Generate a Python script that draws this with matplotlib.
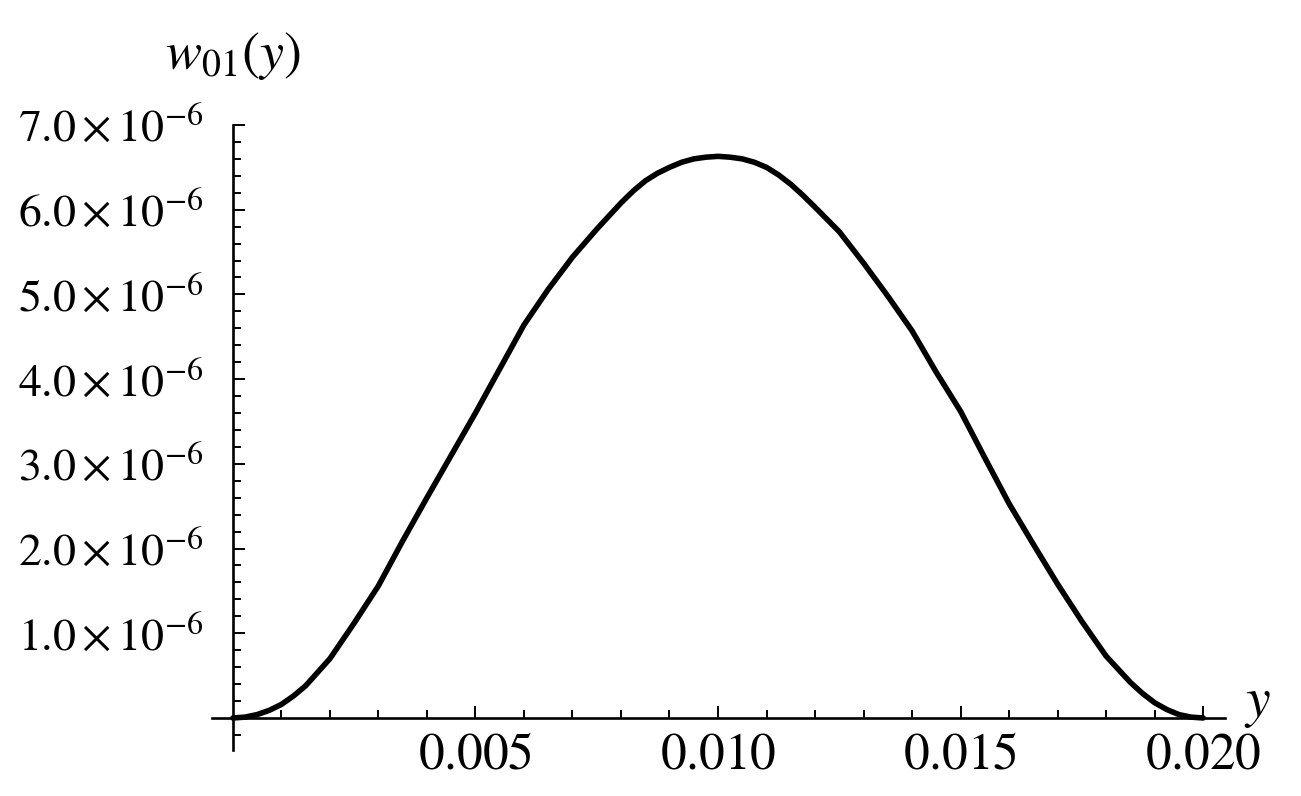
import matplotlib
matplotlib.use('Agg')
import matplotlib.pyplot as plt
from matplotlib.ticker import FixedLocator, FixedFormatter

plt.rcParams['mathtext.fontset'] = 'stix'
plt.rcParams['font.family'] = ['Liberation Serif', 'DejaVu Serif']

# ---- data ----
y_pos = [0.0, 0.00025, 0.0005, 0.00075, 0.001, 0.00125, 0.0015, 0.002, 0.0025, 0.003,
         0.0035, 0.004, 0.0045, 0.005, 0.0055, 0.006, 0.0065, 0.007, 0.0075, 0.008,
         0.00825, 0.0085, 0.00875, 0.009, 0.00925, 0.0095, 0.00975, 0.010,
         0.01025, 0.0105, 0.01075, 0.011, 0.01125, 0.0115, 0.01175, 0.012,
         0.0125, 0.013, 0.0135, 0.014, 0.0145, 0.015, 0.0155, 0.016, 0.0165,
         0.017, 0.0175, 0.018, 0.0185, 0.01875, 0.019, 0.01925, 0.0195, 0.01975, 0.020]
w01_e6 = [0.00, 0.01, 0.04, 0.09, 0.16, 0.26, 0.38, 0.70, 1.12, 1.56,
          2.09, 2.60, 3.10, 3.60, 4.12, 4.64, 5.06, 5.44, 5.77, 6.08,
          6.22, 6.34, 6.43, 6.50, 6.56, 6.60, 6.62, 6.63,
          6.62, 6.60, 6.56, 6.50, 6.41, 6.30, 6.17, 6.03,
          5.74, 5.37, 4.98, 4.57, 4.08, 3.62, 3.07, 2.53, 2.05,
          1.58, 1.14, 0.73, 0.42, 0.29, 0.18, 0.10, 0.04, 0.01, 0.00]
w01 = [v * 1e-6 for v in w01_e6]

x_major = [0.005, 0.010, 0.015, 0.020]
x_tick_labels = ['0.005', '0.010', '0.015', '0.020']
x_minor = [0.001, 0.002, 0.003, 0.004, 0.006, 0.007, 0.008, 0.009,
           0.011, 0.012, 0.013, 0.014, 0.016, 0.017, 0.018, 0.019]
y_major = [1e-6, 2e-6, 3e-6, 4e-6, 5e-6, 6e-6, 7e-6]
y_tick_labels = [r'$1.0\times10^{-6}$', r'$2.0\times10^{-6}$', r'$3.0\times10^{-6}$',
                 r'$4.0\times10^{-6}$', r'$5.0\times10^{-6}$', r'$6.0\times10^{-6}$',
                 r'$7.0\times10^{-6}$']
y_minor = [k * 0.2e-6 for k in range(-1, 35) if k % 5 != 0]

fig = plt.figure(figsize=(13.01, 7.96), dpi=100)
ax = fig.add_axes([212/1301, 46/796, 1013/1301, 625/796])
ax.set_xlim(-0.00043, 0.02045)
ax.set_ylim(-0.378e-6, 7.0e-6)

ax.plot(y_pos, w01, color='black', lw=4.0, solid_capstyle='round',
        solid_joinstyle='round', zorder=3)

for s in ['top', 'right']:
    ax.spines[s].set_visible(False)
ax.spines['left'].set_position(('data', 0))
ax.spines['bottom'].set_position(('data', 0))
for s in ['left', 'bottom']:
    ax.spines[s].set_linewidth(1.9)

ax.xaxis.set_major_locator(FixedLocator(x_major))
ax.xaxis.set_major_formatter(FixedFormatter(['$' + t + '$' for t in x_tick_labels]))
ax.xaxis.set_minor_locator(FixedLocator(x_minor))
ax.yaxis.set_major_locator(FixedLocator(y_major))
ax.yaxis.set_major_formatter(FixedFormatter(y_tick_labels))
ax.yaxis.set_minor_locator(FixedLocator(y_minor))

ax.tick_params(which='both', direction='in', width=1.4, color='black')
ax.tick_params(which='major', length=8.5)
ax.tick_params(which='minor', length=5.5)
ax.tick_params(axis='x', which='major', labelsize=37, pad=11)
ax.tick_params(axis='y', which='major', labelsize=33, pad=21)

ax.text(0, 7.82e-6, r'$w_{01}(y)$', fontsize=39, ha='center', va='center', clip_on=False)
ax.text(0.02111, 0.16e-6, r'$y$', fontsize=40, ha='center', va='center', clip_on=False)

fig.savefig('out.png', dpi=100, facecolor='white')
